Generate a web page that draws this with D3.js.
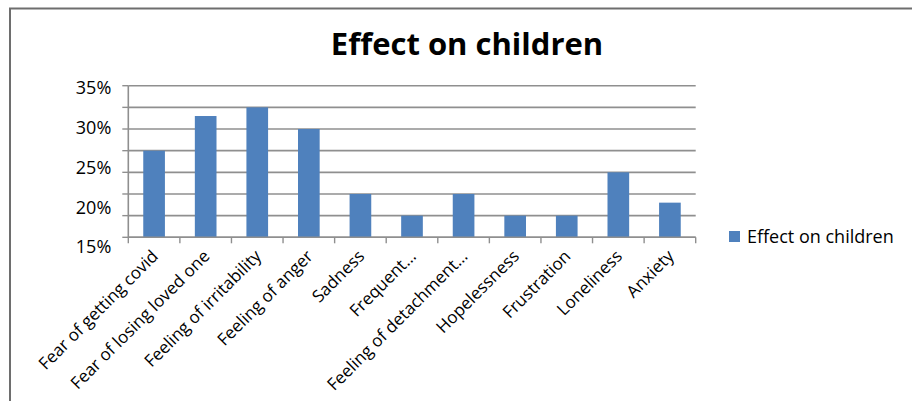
<!DOCTYPE html>
<html>
<head>
<meta charset="utf-8">
<script src="https://cdn.jsdelivr.net/npm/d3@7"></script>
<style>
  html, body { margin: 0; padding: 0; background: #fff; }
  svg { display: block; }
  text { font-family: "Open Sans", "Noto Sans", sans-serif; fill: #000; }
</style>
</head>
<body>
<svg id="chart" width="912" height="401"></svg>
<script>
// Share of children showing each effect (%)
const categories = [
  "Fear of getting covid", "Fear of losing loved one", "Feeling of irritability",
  "Feeling of anger", "Sadness", "Frequent…", "Feeling of detachment…",
  "Hopelessness", "Frustration", "Loneliness", "Anxiety"
];
const values = [20, 28, 30, 25, 10, 5, 10, 5, 5, 15, 8];
const gridValues = [0, 5, 10, 15, 20, 25, 30, 35];
const tickLabels = ["35%", "30%", "25%", "20%", "15%"];
const seriesName = "Effect on children";
const title = "Effect on children";

const svg = d3.select("#chart");
const plot = { left: 128.3, right: 695.7, top: 85.7, bottom: 237.3 };

// Frame
svg.append("path")
  .attr("d", "M10,401 L10,8.5 L912,8.5")
  .attr("fill", "none").attr("stroke", "#6e6e6e").attr("stroke-width", 2);

// Title
svg.append("text")
  .attr("x", 467).attr("y", 55)
  .attr("text-anchor", "middle")
  .attr("font-size", 31).attr("font-weight", 700)
  .text(title);

const x = d3.scaleBand().domain(categories)
  .range([plot.left, plot.right]).paddingInner(0.58).paddingOuter(0.29);
const y = d3.scaleLinear().domain([0, 35]).range([plot.bottom, plot.top]);

// Horizontal gridlines
svg.append("g").selectAll("line").data(gridValues).join("line")
  .attr("x1", plot.left).attr("x2", plot.right)
  .attr("y1", d => y(d)).attr("y2", d => y(d))
  .attr("stroke", "#8f8f8f").attr("stroke-width", 1.6);

// Left tick marks on the value axis
svg.append("g").selectAll("line").data(gridValues).join("line")
  .attr("x1", plot.left - 6).attr("x2", plot.left)
  .attr("y1", d => y(d)).attr("y2", d => y(d))
  .attr("stroke", "#8f8f8f").attr("stroke-width", 1.4);

// Bars
svg.append("g").selectAll("rect").data(values).join("rect")
  .attr("x", (d, i) => x(categories[i]))
  .attr("width", x.bandwidth())
  .attr("y", d => y(d))
  .attr("height", d => y(0) - y(d))
  .attr("fill", "#4f81bd");

// Value axis line
svg.append("line")
  .attr("x1", plot.left).attr("x2", plot.left)
  .attr("y1", plot.top).attr("y2", plot.bottom)
  .attr("stroke", "#8f8f8f").attr("stroke-width", 1.6);

// Value axis labels
const yLab = d3.scalePoint().domain(tickLabels).range([88, 247]);
const yAxis = svg.append("g")
  .attr("transform", `translate(${plot.left - 17},0)`)
  .call(d3.axisLeft(yLab).tickSize(0).tickPadding(0));
yAxis.select(".domain").remove();
yAxis.selectAll("text")
  .attr("font-size", 18)
  .attr("font-family", "\"Open Sans\", sans-serif")
  .attr("fill", "#000");

// Category axis with boundary ticks
const bounds = d3.range(categories.length + 1)
  .map(i => plot.left + i * x.step());
svg.append("line")
  .attr("x1", plot.left).attr("x2", plot.right)
  .attr("y1", plot.bottom).attr("y2", plot.bottom)
  .attr("stroke", "#8f8f8f").attr("stroke-width", 1.6);
svg.append("g").selectAll("line").data(bounds).join("line")
  .attr("x1", d => d).attr("x2", d => d)
  .attr("y1", plot.bottom).attr("y2", plot.bottom + 6)
  .attr("stroke", "#8f8f8f").attr("stroke-width", 1.4);

// Rotated category labels
svg.append("g").selectAll("text").data(categories).join("text")
  .attr("transform", d => `translate(${x(d) + x.bandwidth() / 2 + 5},${plot.bottom + 20}) rotate(-45)`)
  .attr("text-anchor", "end")
  .attr("font-size", 17)
  .text(d => d);

// Legend
const legend = svg.append("g").attr("transform", "translate(729,231)");
legend.append("rect").attr("width", 11).attr("height", 11).attr("fill", "#4f81bd");
legend.append("text").attr("x", 18).attr("y", 12)
  .attr("font-size", 18).text(seriesName);
</script>
</body>
</html>
